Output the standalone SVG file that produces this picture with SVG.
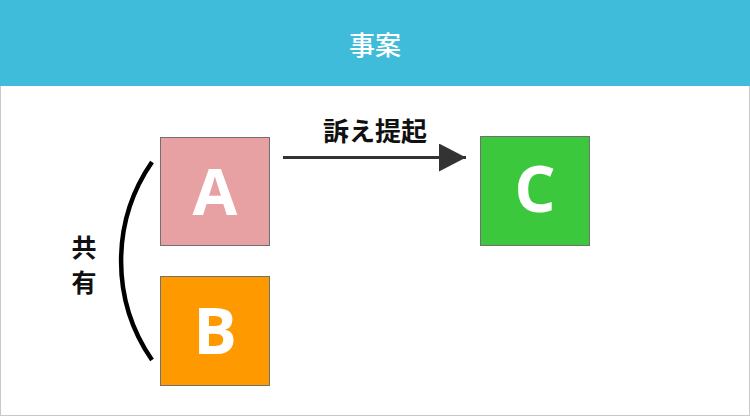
<svg xmlns="http://www.w3.org/2000/svg" width="750" height="416" viewBox="0 0 750 416">
<defs>
<style>
.box{stroke:#707070;stroke-width:1}
.letter{font-family:"Open Sans","Liberation Sans",sans-serif;font-weight:700;font-size:65px;fill:#ffffff;text-anchor:middle}
.jp{font-family:"Noto Sans CJK JP","Noto Sans CJK SC",sans-serif;font-weight:700;fill:#111111;text-anchor:middle}
</style>
<marker id="arrow" viewBox="0 0 27 28" refX="27" refY="14" markerWidth="27" markerHeight="28" markerUnits="userSpaceOnUse" orient="auto">
<path d="M0,0 L27,14 L0,28 Z" fill="#333333"/>
</marker>
</defs>
<rect x="0.5" y="0.5" width="749" height="415" fill="#ffffff" stroke="#c8c8c8" stroke-width="1"/>
<g id="header">
<rect x="0" y="0" width="750" height="86" fill="#40bcdb"/>
<text x="375" y="55" class="jp" style="fill:#ffffff;font-size:26px;font-weight:500">事案</text>
</g>
<g id="connectors">
<line x1="283" y1="157.5" x2="466" y2="157.5" stroke="#333333" stroke-width="3" marker-end="url(#arrow)"/>
<text x="375" y="141" class="jp" style="font-size:26px">訴え提起</text>
<path d="M152,162 A174,174 0 0 0 152,360" fill="none" stroke="#000000" stroke-width="4.5"/>
<text x="84" y="257" class="jp" style="font-size:25px">共</text>
<text x="84" y="292" class="jp" style="font-size:25px">有</text>
</g>
<g id="nodeA">
<rect class="box" x="160.5" y="137.5" width="109" height="108" fill="#e8a1a2"/>
<text class="letter" x="215" y="215">A</text>
</g>
<g id="nodeB">
<rect class="box" x="160.5" y="276.5" width="109" height="109" fill="#ff9900"/>
<text class="letter" x="215" y="354">B</text>
</g>
<g id="nodeC">
<rect class="box" x="480.5" y="136.5" width="109" height="109" fill="#3cc83c"/>
<text class="letter" x="535" y="212">C</text>
</g>
</svg>
